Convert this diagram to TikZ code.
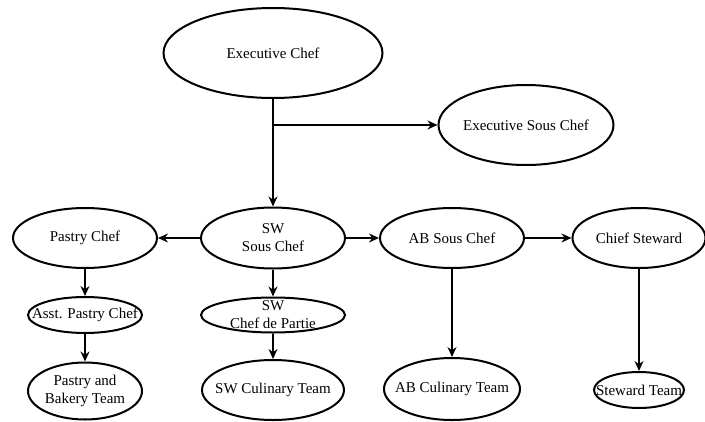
\documentclass[tikz,border=0pt]{standalone}
\usepackage{fontspec}
\setmainfont{Liberation Serif}
\usetikzlibrary{shapes.geometric,arrows.meta}
\begin{document}
\begin{tikzpicture}[x=1pt,y=-1pt,
  role/.style={ellipse, draw, line width=2pt, inner sep=0pt},
  lbl/.style={font=\fontsize{15}{18}\selectfont, align=center, inner sep=0pt},
  arr/.style={line width=1.3pt, -{Stealth[length=10pt,width=9pt]}}]
\useasboundingbox (0,0) rectangle (705,421);
\node[role, minimum width=219, minimum height=90, label={[lbl]center:Executive Chef}] (ec) at (273,53) {};
\node[role, minimum width=175, minimum height=80, label={[lbl]center:Executive Sous Chef}] (esc) at (526,125) {};
\node[role, minimum width=144, minimum height=60, label={[lbl]center:Pastry Chef}] (pc) at (85,238) {};
\node[role, minimum width=144, minimum height=61, label={[lbl]center:SW\\Sous Chef}] (swsc) at (273,238) {};
\node[role, minimum width=144, minimum height=60, label={[lbl]center:AB Sous Chef}] (absc) at (452,238) {};
\node[role, minimum width=133, minimum height=60, label={[lbl]center:Chief Steward}] (cs) at (639,238) {};
\node[role, minimum width=114, minimum height=36, label={[lbl]center:Asst. Pastry Chef}] (apc) at (85,315) {};
\node[role, minimum width=144, minimum height=35, label={[lbl]center:SW\\Chef de Partie}] (swcdp) at (273,315) {};
\node[role, minimum width=114, minimum height=57, label={[lbl]center:Pastry and\\Bakery Team}] (pbt) at (85,391) {};
\node[role, minimum width=142, minimum height=60, label={[lbl]center:SW Culinary Team}] (swct) at (273,390) {};
\node[role, minimum width=136, minimum height=62, label={[lbl]center:AB Culinary Team}] (abct) at (452,389) {};
\node[role, minimum width=90, minimum height=36, label={[lbl]center:Steward Team}] (st) at (639,390) {};
\draw[arr] (ec) -- (swsc);
\draw[arr] (ec.south |- esc.west) -- (esc.west);
\draw[arr] (swsc) -- (pc);
\draw[arr] (swsc) -- (absc);
\draw[arr] (absc) -- (cs);
\draw[arr] (pc) -- (apc);
\draw[arr] (apc) -- (pbt);
\draw[arr] (swsc) -- (swcdp);
\draw[arr] (swcdp) -- (swct);
\draw[arr] (absc) -- (abct);
\draw[arr] (cs) -- (st);
\end{tikzpicture}
\end{document}
